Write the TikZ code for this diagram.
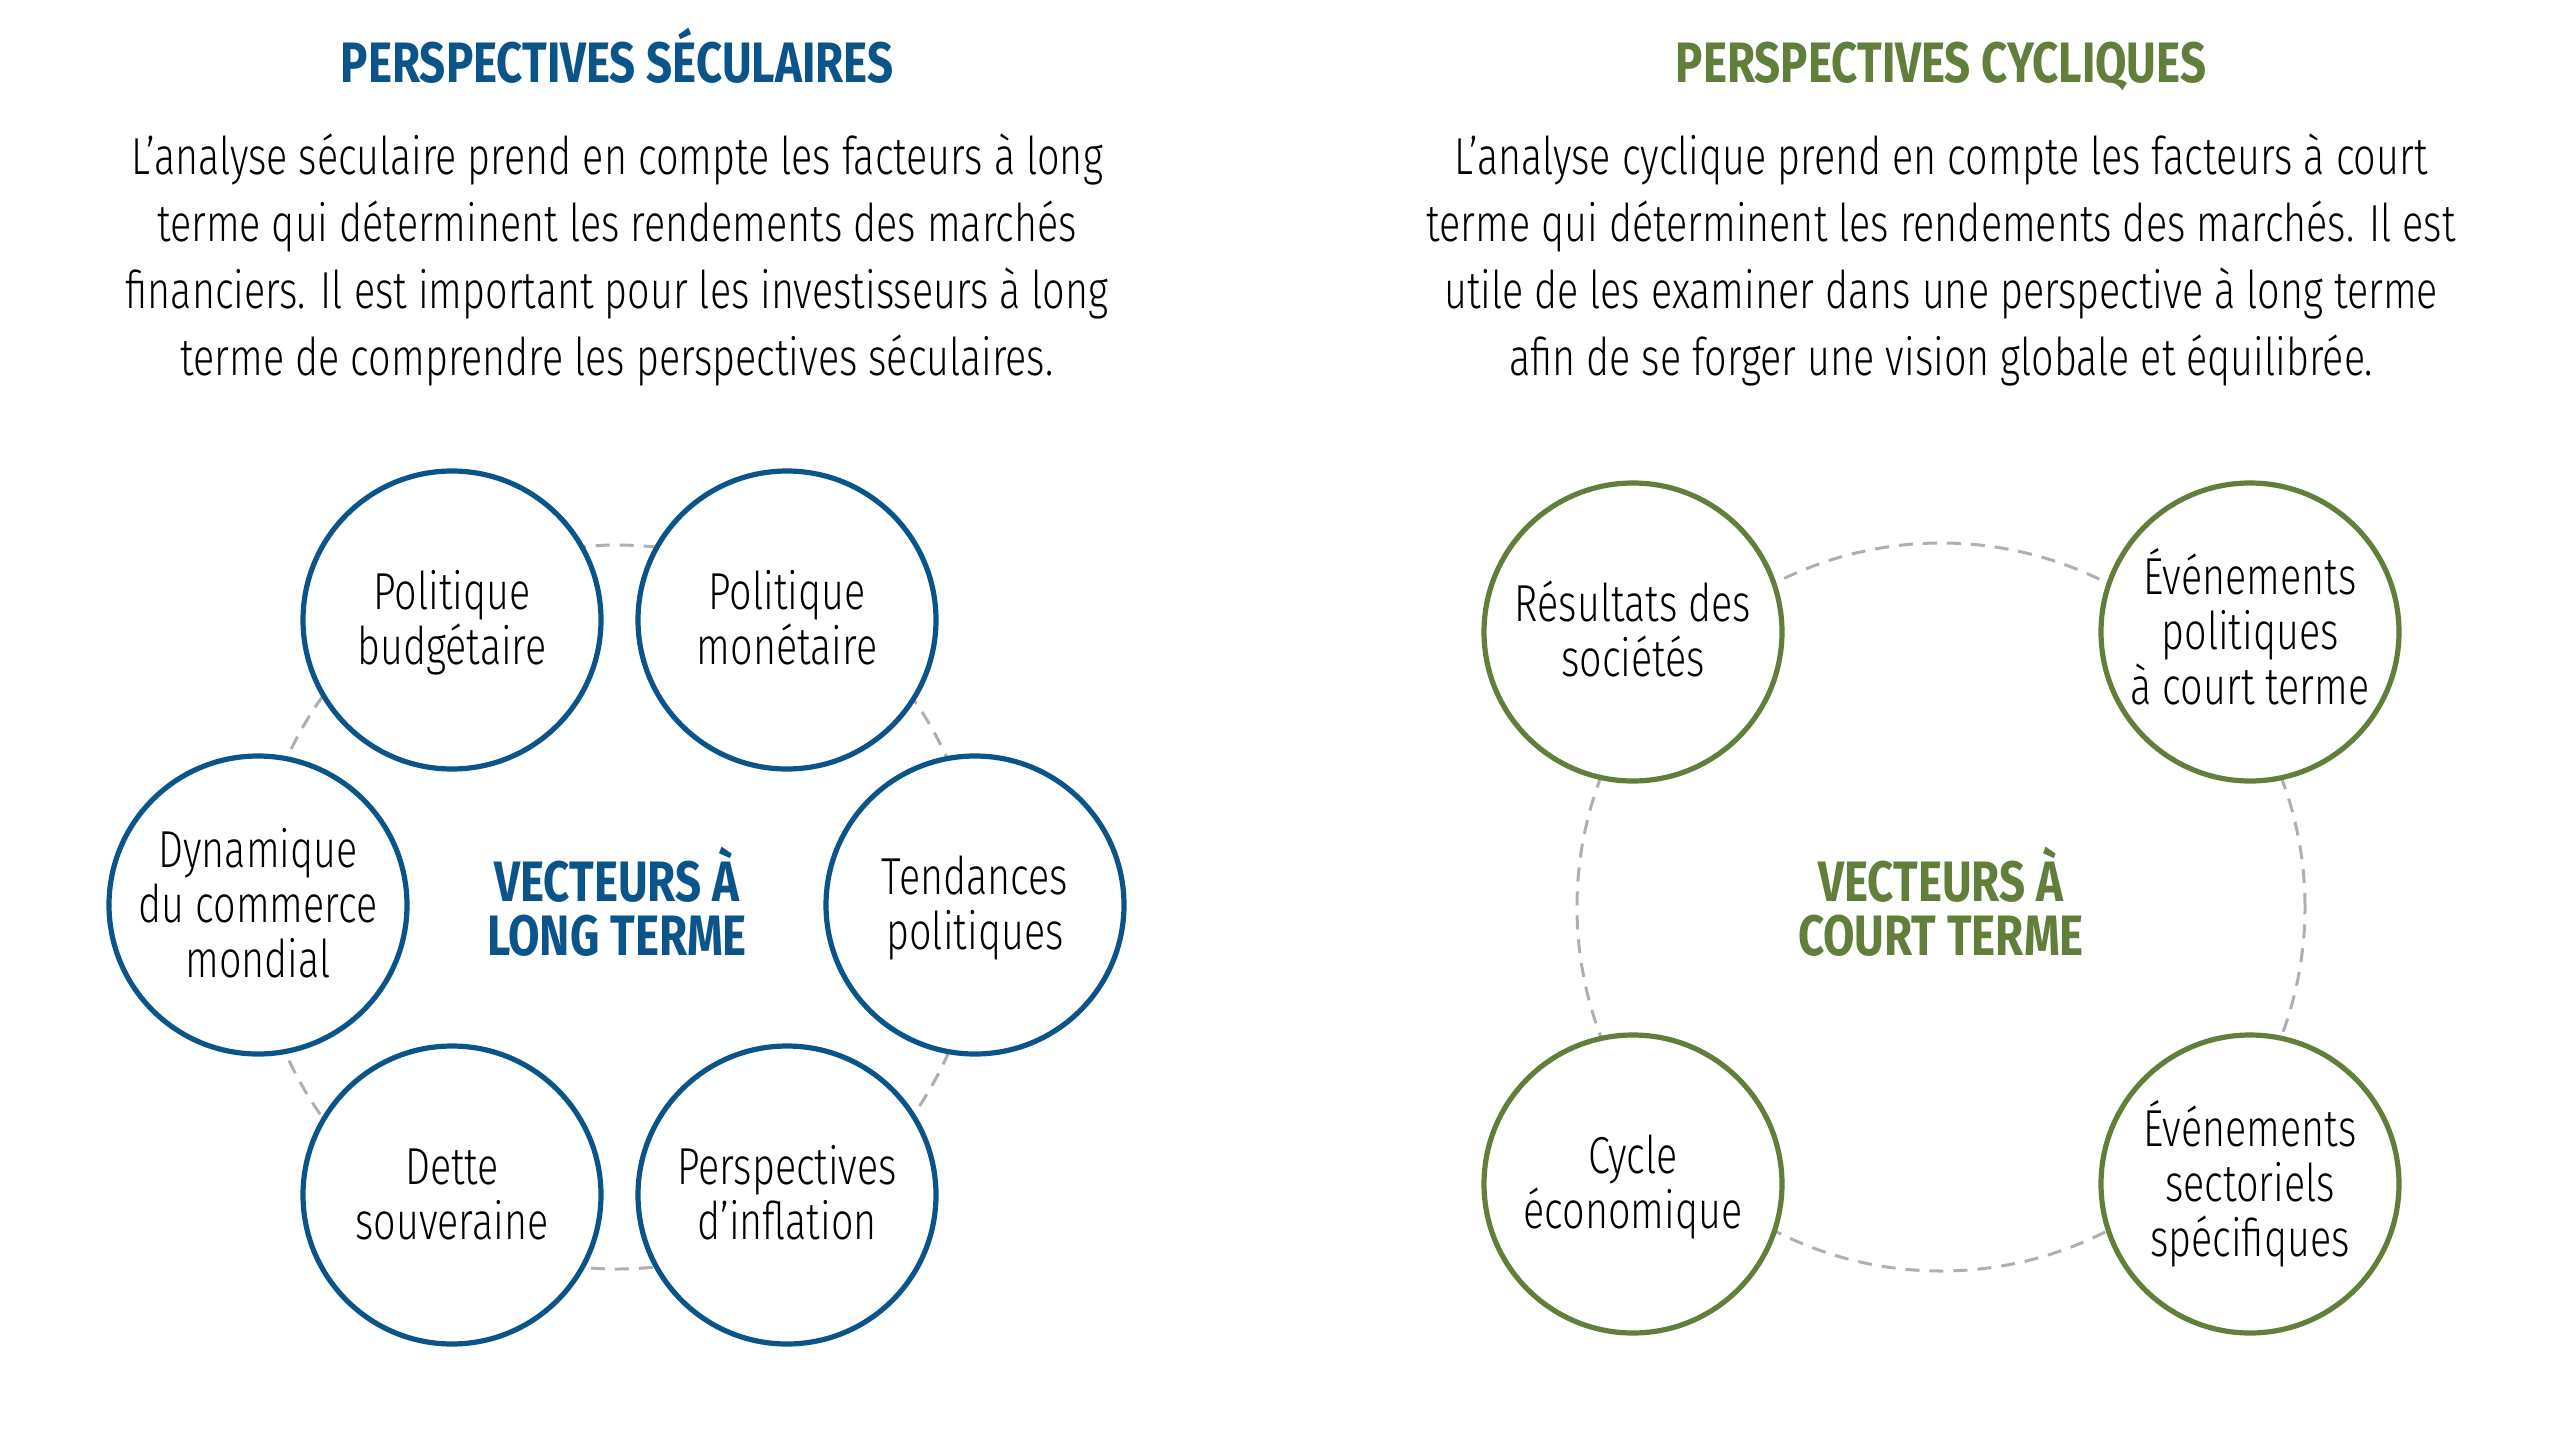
\documentclass[tikz,border=0pt]{standalone}
\usepackage{fontspec}
\setmainfont{Fira Sans}[UprightFont={* Light}, BoldFont={* Bold}, FakeStretch=0.76]
\newfontfamily\headfont{Fira Sans Bold}[FakeStretch=0.80]
\definecolor{tblue}{RGB}{11,84,138}
\definecolor{tgreen}{RGB}{97,126,59}
\definecolor{ringgray}{RGB}{175,175,175}
\newcommand\tstrut{\vrule width 0pt height 23.5pt depth 0pt}
\newcommand\bstrut{\vrule width 0pt height 0pt depth 6.5pt}
\begin{document}
\begin{tikzpicture}[x=0.5pt,y=-0.5pt,
  ring/.style={draw=ringgray, line width=1.5pt, dash pattern=on 7pt off 5pt},
  bcirc/.style={circle, draw=tblue, line width=2.6pt, fill=white, minimum size=149pt, inner sep=0pt},
  gcirc/.style={circle, draw=tgreen, line width=2.6pt, fill=white, minimum size=149pt, inner sep=0pt},
  ctext/.style={align=center, inner sep=0pt, font=\fontsize{26}{27.5}\selectfont},
  para/.style={align=center, inner sep=0pt, font=\fontsize{26}{33.5}\selectfont},
  ttl/.style={inner sep=0pt, anchor=base, font=\fontsize{28.5}{30}\headfont},
  vlabel/.style={align=center, inner sep=0pt, font=\fontsize{28.5}{27}\headfont}
]
\useasboundingbox (0,0) rectangle (2560,1440);

% ---------- left side ----------
\node[ttl, text=tblue] (t1) at (617,82) {PERSPECTIVES SÉCULAIRES};
\node[para] (p1) at (617,260) {L’analyse séculaire prend en compte les facteurs à long\\
terme qui déterminent les rendements des marchés\\
financiers. Il est important pour les investisseurs à long\\
terme de comprendre les perspectives séculaires.};

\coordinate (c1) at (617,907);
\draw[ring] (c1) circle[radius=181pt];

\node[bcirc] (pb) at (452,620) {};
\node[bcirc] (pm) at (787,620) {};
\node[bcirc] (tp) at (975,905) {};
\node[bcirc] (pi) at (787,1195) {};
\node[bcirc] (ds) at (452,1195) {};
\node[bcirc] (dc) at (258,905) {};

\node[ctext] (pbt) at (pb) {\tstrut Politique\\budgétaire\bstrut};
\node[ctext] (pmt) at (pm) {\tstrut Politique\\monétaire\bstrut};
\node[ctext] (tpt) at (tp) {\tstrut Tendances\\politiques\bstrut};
\node[ctext] (pit) at (pi) {\tstrut Perspectives\\d’inflation\bstrut};
\node[ctext] (dst) at (ds) {\tstrut Dette\\souveraine\bstrut};
\node[ctext] (dct) at (dc) {\tstrut Dynamique\\du commerce\\mondial\bstrut};

\node[vlabel, text=tblue] (v1) at ([yshift=2.5pt]c1) {VECTEURS À\\LONG TERME};

% ---------- right side ----------
\node[ttl, text=tgreen] (t2) at (1941,82) {PERSPECTIVES CYCLIQUES};
\node[para] (p2) at (1941,260) {L’analyse cyclique prend en compte les facteurs à court\\
terme qui déterminent les rendements des marchés. Il est\\
utile de les examiner dans une perspective à long terme\\
afin de se forger une vision globale et équilibrée.};

\coordinate (c2) at (1941,907);
\draw[ring] (c2) circle[radius=182pt];

\node[gcirc] (rs) at (1633,632) {};
\node[gcirc] (ep) at (2250,632) {};
\node[gcirc] (ce) at (1633,1184) {};
\node[gcirc] (es) at (2250,1184) {};

\node[ctext] (rst) at (rs) {\tstrut Résultats des\\sociétés\bstrut};
\node[ctext] (ept) at (ep) {\tstrut Événements\\politiques\\à court terme\bstrut};
\node[ctext] (cet) at (ce) {\tstrut Cycle\\économique\bstrut};
\node[ctext] (est) at (es) {\tstrut Événements\\sectoriels\\spécifiques\bstrut};

\node[vlabel, text=tgreen] (v2) at ([yshift=2.5pt]c2) {VECTEURS À\\COURT TERME};
\end{tikzpicture}
\end{document}
